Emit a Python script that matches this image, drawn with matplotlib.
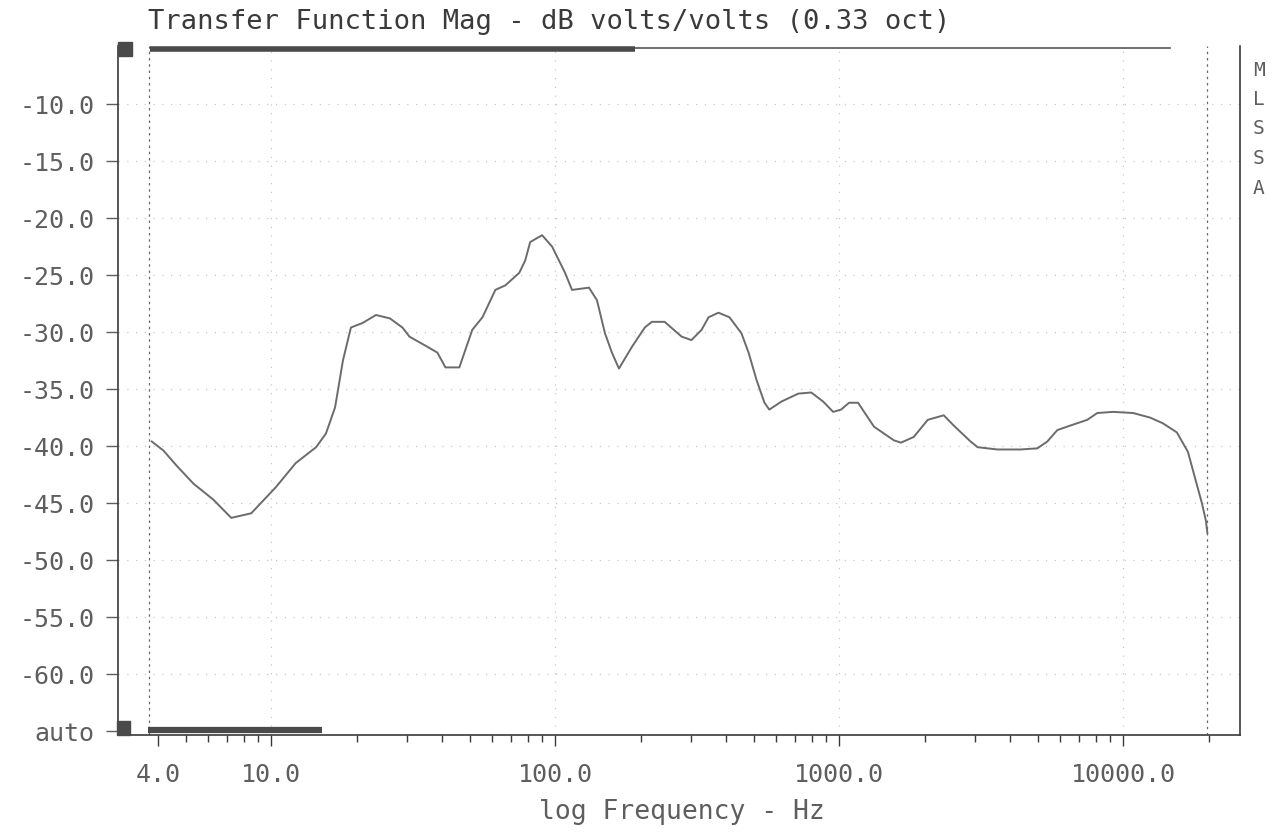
import matplotlib
matplotlib.use("Agg")
import matplotlib.pyplot as plt
from matplotlib.patches import Rectangle
from matplotlib.ticker import FixedLocator, NullFormatter

# ---- data ----
freq_hz = [3.8, 4.18, 4.64, 5.33, 6.26, 7.24, 8.51, 10.4, 12.2, 14.4, 15.6, 16.8,
           17.9, 19.1, 21.0, 23.4, 26.2, 29.0, 30.7, 35.0, 38.5, 41.1, 46.0, 51.1,
           55.5, 61.6, 66.8, 74.8, 78.5, 81.7, 90.0, 97.6, 108.4, 114.7, 131.6,
           140.4, 149.8, 158.5, 167.8, 186.4, 206.9, 219, 243, 279, 302, 328, 347,
           376, 411, 453, 480, 512, 546, 568, 626, 718, 798, 879, 953, 1016, 1084,
           1166, 1327, 1560, 1651, 1832, 2052, 2336, 2533, 2904, 3074, 3612, 4353,
           4990, 5410, 5866, 6518, 7479, 8110, 9226, 10840, 12440, 13800, 15460,
           16910, 18190, 18940, 19550, 19800]
mag_db = [-39.6, -40.4, -41.7, -43.3, -44.7, -46.3, -45.9, -43.6, -41.5, -40.1,
          -38.9, -36.6, -32.5, -29.6, -29.2, -28.5, -28.8, -29.6, -30.4, -31.2,
          -31.8, -33.1, -33.1, -29.8, -28.7, -26.3, -25.9, -24.8, -23.7, -22.1,
          -21.5, -22.5, -24.8, -26.3, -26.1, -27.2, -30.1, -31.8, -33.2, -31.3,
          -29.6, -29.1, -29.1, -30.4, -30.7, -29.8, -28.7, -28.3, -28.7, -30.1,
          -31.8, -34.2, -36.2, -36.8, -36.1, -35.4, -35.3, -36.1, -37.0, -36.8,
          -36.2, -36.2, -38.3, -39.5, -39.7, -39.2, -37.7, -37.3, -38.2, -39.6,
          -40.1, -40.3, -40.3, -40.2, -39.6, -38.6, -38.2, -37.7, -37.1, -37.0,
          -37.1, -37.5, -38.0, -38.8, -40.5, -43.4, -45.0, -46.5, -47.6]

y_ticks = [-65, -60, -55, -50, -45, -40, -35, -30, -25, -20, -15, -10]
y_tick_labels = ["auto", "-60.0", "-55.0", "-50.0", "-45.0", "-40.0", "-35.0",
                 "-30.0", "-25.0", "-20.0", "-15.0", "-10.0"]
x_major_ticks = [4, 10, 100, 1000, 10000]
x_major_labels = ["4.0", "10.0", "100.0", "1000.0", "10000.0"]
x_minor_ticks = [5, 6, 7, 8, 9, 20, 30, 40, 50, 60, 70, 80, 90,
                 200, 300, 400, 500, 600, 700, 800, 900,
                 2000, 3000, 4000, 5000, 6000, 7000, 8000, 9000, 20000]
cursor_freqs = [3.72, 19770]
side_letters = ["M", "L", "S", "S", "A"]

title = "Transfer Function Mag - dB volts/volts (0.33 oct)"
xlabel = "log Frequency - Hz"

FONT = "DejaVu Sans Mono"
INK = "#3a3a3a"
GRAY = "#5e5e5e"

W, H = 1278, 835
fig = plt.figure(figsize=(W / 100, H / 100), dpi=100)
fig.patch.set_facecolor("white")

ax_l, ax_r, ax_t, ax_b = 118, 1240, 46, 735
ax = fig.add_axes([ax_l / W, 1 - ax_b / H, (ax_r - ax_l) / W, (ax_b - ax_t) / H])
ax.set_xscale("log")
ax.set_xlim(2.89, 25800)
ax.set_ylim(-65.35, -4.9)

# faint dotted grid
for yv in y_ticks[1:]:
    ax.axhline(yv, color="#c8c8c8", lw=0.9, ls=(0, (1, 6)), zorder=0)
for xv in x_major_ticks[1:]:
    ax.axvline(xv, color="#c8c8c8", lw=0.9, ls=(0, (1, 6)), zorder=0)

# cursors
for cf in cursor_freqs:
    ax.axvline(cf, color="#6a6a6a", lw=0.9, ls=(0, (2, 3)), zorder=1)

# the curve
ax.plot(freq_hz, mag_db, color="#6b6b6b", lw=1.4, zorder=3)

# spines
for s in ["left", "bottom", "right"]:
    ax.spines[s].set_color(INK)
    ax.spines[s].set_linewidth(1.2)
ax.spines["top"].set_visible(False)

# ticks
ax.yaxis.set_major_locator(FixedLocator(y_ticks))
ax.set_yticklabels(y_tick_labels)
ax.xaxis.set_major_locator(FixedLocator(x_major_ticks))
ax.set_xticklabels(x_major_labels)
ax.xaxis.set_minor_locator(FixedLocator(x_minor_ticks))
ax.xaxis.set_minor_formatter(NullFormatter())
ax.yaxis.set_minor_locator(FixedLocator([]))
ax.tick_params(axis="y", which="major", direction="out", length=9, width=1.0,
               color=GRAY, pad=8, labelsize=18, labelcolor=GRAY)
ax.tick_params(axis="x", which="major", direction="out", length=8, width=1.0,
               color=INK, pad=12, labelsize=18, labelcolor=GRAY)
ax.tick_params(axis="x", which="minor", direction="out", length=5, width=1.0,
               color=INK)
for lab in ax.get_xticklabels() + ax.get_yticklabels():
    lab.set_fontfamily(FONT)

# top scale line and scroll bars
ax.plot([0.0285, 0.9376], [0.997, 0.997], transform=ax.transAxes, color="#555555",
        lw=1.2, clip_on=False, zorder=4)
ax.plot([0.0285, 0.461], [0.995, 0.995], transform=ax.transAxes, color="#4a4a4a",
        lw=4.0, solid_capstyle="butt", clip_on=False, zorder=4)
ax.plot([0.0267, 0.182], [0.007, 0.007], transform=ax.transAxes, color="#4a4a4a",
        lw=4.5, solid_capstyle="butt", clip_on=False, zorder=4)
ax.add_patch(Rectangle((0.0, 0.985), 0.0125, 0.021, transform=ax.transAxes,
                       color="#4a4a4a", clip_on=False, zorder=5))
ax.add_patch(Rectangle((-0.001, 0.0), 0.012, 0.021, transform=ax.transAxes,
                       color="#4a4a4a", clip_on=False, zorder=5))

# title and axis label
fig.text(148 / W, 1 - 22 / H, title, ha="left", va="center", fontsize=19.5,
         family=FONT, color=INK)
fig.text(682 / W, 1 - 812 / H, xlabel, ha="center", va="center", fontsize=19,
         family=FONT, color=GRAY)

# side letters
for i, ch in enumerate(side_letters):
    fig.text(1259 / W, 1 - (70 + i * 29.5) / H, ch, ha="center", va="center",
             fontsize=14, family=FONT, color=GRAY)

fig.savefig("out.png", dpi=100, facecolor="white")
